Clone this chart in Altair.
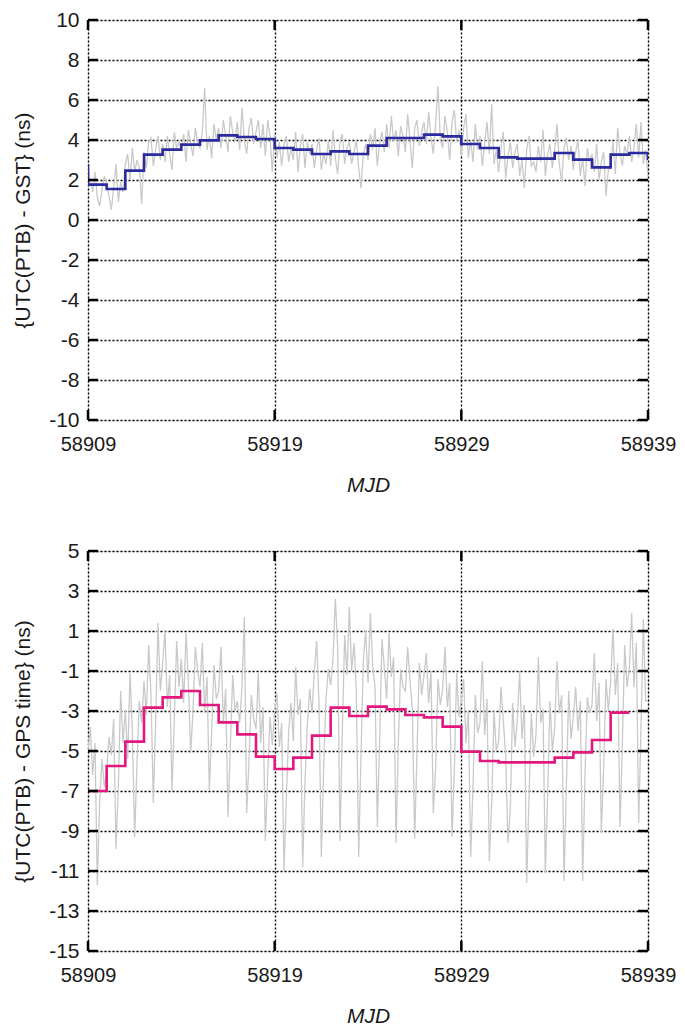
import altair as alt
import numpy as np
import pandas as pd

# ---------------- data ----------------
X_TICKS = [58909, 58919, 58929, 58939]
TOP_YTICKS = [-10, -8, -6, -4, -2, 0, 2, 4, 6, 8, 10]
BOT_YTICKS = [-15, -13, -11, -9, -7, -5, -3, -1, 1, 3, 5]

# gray raw series, 8 samples per day (one row per day), plus final point
TOP_GRAY = [
    2.6, 2.0, 1.4, 2.4, 1.1, 0.7, 1.5, 2.2,
    1.8, 1.2, 0.5, 1.6, 2.8, 0.9, 1.9, 1.4,
    2.8, 3.3, 2.0, 3.6, 2.4, 3.0, 2.6, 0.8,
    3.4, 2.6, 3.9, 4.1, 2.7, 3.5, 4.2, 3.0,
    3.8, 2.9, 4.2, 3.3, 2.5, 4.4, 3.6, 3.9,
    3.5, 4.3, 2.9, 4.5, 3.8, 3.2, 4.6, 3.9,
    3.6, 4.4, 6.6, 3.5, 4.2, 3.1, 4.8, 4.0,
    4.6, 3.6, 5.0, 4.2, 3.4, 5.2, 4.4, 3.9,
    4.9, 3.5, 5.6, 4.0, 3.3, 4.6, 5.1, 3.8,
    4.4, 5.0, 3.6, 4.8, 3.2, 5.0, 4.2, 2.4,
    4.3, 3.1, 3.9, 2.7, 3.8, 4.2, 2.9, 3.6,
    3.0, 4.4, 2.4, 3.7, 4.3, 2.6, 3.9, 3.3,
    3.8, 2.6, 3.5, 4.1, 2.5, 3.3, 2.8, 4.0,
    2.7, 4.5, 3.1, 2.3, 3.9, 4.3, 2.8, 3.6,
    3.9, 2.8, 3.4, 4.0, 2.6, 1.6, 3.3, 3.8,
    3.0, 4.3, 3.5, 4.6, 2.7, 3.9, 4.4, 3.4,
    4.8, 3.6, 5.2, 3.9, 4.5, 3.2, 4.7, 4.2,
    3.4, 5.3, 4.0, 2.6, 4.6, 5.0, 3.7, 4.4,
    4.9, 3.8, 5.4, 4.1, 3.3, 4.8, 6.7, 4.0,
    3.6, 5.2, 4.4, 3.0, 4.9, 5.5, 3.9, 4.5,
    3.2, 4.6, 5.3, 3.1, 4.0, 2.9, 4.8, 3.5,
    4.2, 2.7, 3.8, 4.9, 3.3, 5.8, 2.8, 3.5,
    2.4, 3.6, 4.4, 2.1, 3.2, 3.9, 2.6, 3.4,
    3.8, 2.2, 3.0, 1.6, 3.5, 4.2, 2.7, 2.9,
    2.4, 3.7, 2.9, 4.5, 2.2, 3.3, 3.8, 2.6,
    3.5, 4.8, 2.8, 1.9, 3.6, 4.1, 3.0, 3.7,
    2.5, 3.4, 4.0, 2.2, 3.1, 1.7, 3.6, 2.9,
    3.3, 2.4, 3.8, 2.0, 2.9, 3.4, 1.2, 2.5,
    2.8, 3.9, 2.3, 4.6, 3.4, 2.7, 3.7, 3.3,
    4.2, 2.9, 3.6, 4.8, 3.1, 4.9, 2.8, 3.5,
    2.2,
]

BOT_GRAY = [
    -5.0, -3.8, -6.2, -4.6, -11.7, -7.5, -5.4, -6.8,
    -6.0, -4.3, -5.2, -3.4, -9.9, -6.8, -2.0, -4.6,
    -3.0, -5.4, -1.1, -4.0, -9.3, -5.6, -2.5, -3.6,
    -1.5, -3.2, 0.3, -2.2, -7.6, -3.5, 1.4, -2.0,
    -0.6, 1.0, -2.8, -1.2, -7.0, -3.4, 0.5, -1.8,
    -0.4, -2.6, 0.9, -1.5, -5.1, -3.0, 0.2, -1.0,
    -1.8, 0.4, -3.1, -1.3, -7.0, -4.0, -0.7, -2.4,
    -2.0, 0.2, -3.6, -1.9, -8.3, -4.8, -1.2, -3.0,
    -2.5, -3.6, -1.8, 1.7, -8.1, -5.5, -2.2, -3.4,
    -3.9, -1.1, -4.6, -2.8, -9.5, -6.2, -3.3, -4.7,
    -3.0, -2.1, -4.8, -3.6, -11.0, -7.4, -4.0, -2.6,
    -4.5, -0.8, -3.2, -2.4, -10.8, -6.5, -3.7, -1.9,
    -3.1, -1.0, 0.5, -2.6, -10.3, -5.8, -2.4, -0.9,
    -1.7, -0.4, 2.6, 0.2, -9.5, -4.0, 0.8, -1.2,
    2.2, -1.0, 0.4, -2.1, -10.3, -5.2, -0.5, 1.0,
    -1.6, 1.9, -0.7, -1.8, -8.8, -4.4, 0.6, -0.8,
    -2.4, 0.9, -1.3, -0.3, -9.6, -4.6, -0.9, -1.8,
    -2.0, 0.2, -1.5, -2.9, -9.4, -5.1, -0.6, -2.2,
    -1.2, -0.1, -2.6, -1.0, -8.1, -5.8, -1.4, -2.7,
    -1.9, 0.2, -2.8, -1.6, -9.3, -6.0, -1.1, -3.3,
    -2.5, -1.4, -4.6, -3.0, -10.3, -6.8, -2.2, -4.1,
    -3.6, -0.5, -4.2, -2.4, -10.5, -7.6, -3.0, -5.0,
    -4.5, -1.8, -3.5, -5.2, -9.6, -7.9, -2.6, -4.8,
    -3.4, -1.0, -4.4, -2.7, -11.6, -7.4, -3.1, -5.3,
    -4.2, -0.3, -3.6, -2.9, -11.1, -7.1, -2.5, -5.0,
    -3.8, -0.5, -3.1, -2.2, -11.5, -6.9, -2.0, -4.4,
    -3.3, -1.8, -4.0, -2.5, -11.5, -6.2, -2.3, -3.1,
    -2.7, -0.1, -3.5, -1.6, -9.1, -5.8, -1.4, -3.0,
    -1.5, 1.1, -2.2, -0.6, -8.8, -4.7, 0.3, -1.8,
    -0.9, 1.9, -1.8, 0.4, -8.6, -3.9, 1.6, -2.5,
    -2.5,
]

# daily step values (blue, top)
TOP_STEP_MJD = [58909] + list(range(58909, 58940))
TOP_STEP = [2.8,
            1.77, 1.55, 2.47, 3.27, 3.52, 3.77, 3.98, 4.23, 4.15, 4.05,
            3.6, 3.52, 3.3, 3.43, 3.3, 3.72, 4.1, 4.1, 4.27, 4.18,
            3.8, 3.6, 3.13, 3.07, 3.07, 3.35, 3.02, 2.63, 3.27, 3.35,
            3.0]

# daily step values (magenta, bottom)
BOT_STEP_MJD = list(range(58909, 58939))
BOT_STEP = [-7.0, -5.75, -4.53, -2.83, -2.32, -2.0, -2.7, -3.57, -4.17, -5.28,
            -5.9, -5.33, -4.23, -2.83, -3.25, -2.78, -2.92, -3.2, -3.32, -3.78,
            -5.03, -5.5, -5.57, -5.57, -5.57, -5.33, -5.07, -4.45, -3.08,
            -3.08]

GRAY_MJD = list(58909 + np.arange(len(TOP_GRAY)) / 8.0)

FONT = "Liberation Sans"
FS = 21
W, H = 560, 400
LABEL_EXPR = "replace(datum.label, '\u2212', '-')"


def panel(gray_v, step_t, step_v, color, yticks, ytitle):
    gray_df = pd.DataFrame({"mjd": GRAY_MJD, "v": gray_v})
    step_df = pd.DataFrame({"mjd": step_t, "v": step_v, "o": list(range(len(step_t)))})
    ytick_df = pd.DataFrame({"v": yticks})
    xtick_df = pd.DataFrame({"mjd": X_TICKS})

    xs = alt.Scale(domain=[58909, 58939], nice=False, zero=False)
    ys = alt.Scale(domain=[min(yticks), max(yticks)], nice=False, zero=False)

    xaxis = alt.Axis(values=X_TICKS, format="d", title="MJD", grid=True,
                     gridDash=[2, 2], gridColor="black", gridWidth=1.4, gridOpacity=1,
                     ticks=False, domain=False, labelFlush=False,
                     labelPadding=14, titlePadding=20,
                     labelFont=FONT, titleFont=FONT, labelFontSize=20, titleFontSize=FS,
                     titleFontStyle="italic", titleFontWeight="normal",
                     labelColor="#1a1a1a", titleColor="#1a1a1a")
    yaxis = alt.Axis(values=yticks, format="d", labelExpr=LABEL_EXPR, title=ytitle,
                     grid=True, gridDash=[2, 2], gridColor="black", gridWidth=1.4,
                     gridOpacity=1, ticks=False, domain=False, labelFlush=False,
                     labelPadding=9, titlePadding=15, labelFont=FONT, titleFont=FONT,
                     labelFontSize=FS, titleFontSize=FS, titleFontWeight="normal",
                     labelColor="#1a1a1a", titleColor="#1a1a1a")

    gray = alt.Chart(gray_df).mark_line(color="#c9c9c9", strokeWidth=1.3, clip=True).encode(
        x=alt.X("mjd:Q", scale=xs, axis=xaxis),
        y=alt.Y("v:Q", scale=ys, axis=yaxis),
    )
    step = alt.Chart(step_df).mark_line(color=color, strokeWidth=2.6,
                                        interpolate="step-after", clip=True).encode(
        x=alt.X("mjd:Q", scale=xs, axis=xaxis),
        y=alt.Y("v:Q", scale=ys, axis=yaxis),
        order="o:Q",
    )
    lt = alt.Chart(ytick_df).mark_rule(color="black", strokeWidth=2.5).encode(
        y=alt.Y("v:Q", scale=ys, axis=yaxis), x=alt.value(0), x2=alt.value(10))
    rt = alt.Chart(ytick_df).mark_rule(color="black", strokeWidth=2.5).encode(
        y=alt.Y("v:Q", scale=ys, axis=yaxis), x=alt.value(W - 10), x2=alt.value(W))
    bt = alt.Chart(xtick_df).mark_rule(color="black", strokeWidth=2.5).encode(
        x=alt.X("mjd:Q", scale=xs, axis=xaxis), y=alt.value(H - 10), y2=alt.value(H))
    tt = alt.Chart(xtick_df).mark_rule(color="black", strokeWidth=2.5).encode(
        x=alt.X("mjd:Q", scale=xs, axis=xaxis), y=alt.value(0), y2=alt.value(10))

    return alt.layer(gray, step, lt, rt, bt, tt).properties(width=W, height=H)


top = panel(TOP_GRAY, TOP_STEP_MJD, TOP_STEP, "#2b2a9e", TOP_YTICKS,
            "{UTC(PTB) - GST} (ns)")
bot = panel(BOT_GRAY, BOT_STEP_MJD, BOT_STEP, "#e3187f", BOT_YTICKS,
            "{UTC(PTB) - GPS time} (ns)")

chart = alt.vconcat(top, bot, spacing=43).properties(
    padding={"top": 0, "left": 4, "right": 0, "bottom": 0}
).configure_view(
    stroke="black", strokeWidth=2
).configure(background="white")

chart.save("out.html", embed_options={"renderer": "svg", "actions": False})
